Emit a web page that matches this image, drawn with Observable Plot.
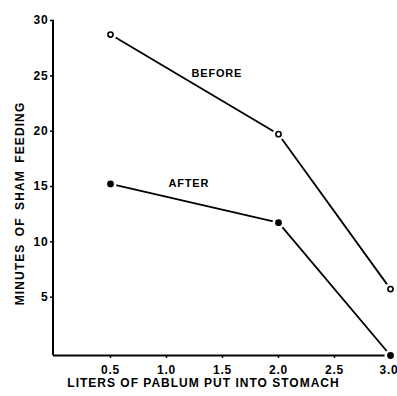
<!DOCTYPE html>
<html>
<head>
<meta charset="utf-8">
<script src="https://cdn.jsdelivr.net/npm/d3@7"></script>
<script src="https://cdn.jsdelivr.net/npm/@observablehq/plot@0.6"></script>
<style>
  html, body { margin: 0; padding: 0; background: #fff; }
  svg { font-family: "Liberation Sans", "DejaVu Sans", sans-serif; }
  .xlab text { letter-spacing: 1px; }
  .ylab text { letter-spacing: 1.1px; word-spacing: 3px; }
  .slab text { letter-spacing: 0.8px; }
  .tlab text { letter-spacing: 0.8px; }
</style>
</head>
<body>
<div id="chart"></div>
<script>
const liters = [0.5, 2.0, 3.0];
const before = [29, 20, 6];
const after = [15.5, 12, 0];
const xTicks = [0.5, 1.0, 1.5, 2.0, 2.5, 3.0];
const xTickLabels = ["0.5", "1.0", "1.5", "2.0", "2.5", "3.0"];
const yTicks = [5, 10, 15, 20, 25, 30];
const seriesLabels = ["BEFORE", "AFTER"];
const labelPos = [{x: 1.45, y: 25.5}, {x: 1.2, y: 15.5}];

const beforeData = liters.map((x, i) => ({x, y: before[i]}));
const afterData = liters.map((x, i) => ({x, y: after[i]}));
const labelData = seriesLabels.map((t, i) => ({text: t, ...labelPos[i]}));
const fmtX = d => xTickLabels[xTicks.indexOf(d)];

const chart = Plot.plot({
  width: 397,
  height: 396,
  marginLeft: 54,
  marginRight: 7,
  marginTop: 23,
  marginBottom: 41,
  x: {domain: [0, 3]},
  y: {domain: [0, 30]},
  style: {fontFamily: "Liberation Sans, DejaVu Sans, sans-serif", color: "#000"},
  marks: [
    Plot.ruleX([0], {y1: 0, y2: 30.3, stroke: "#000", strokeWidth: 2, dx: -1.5}),
    Plot.ruleY([0], {x1: -0.01, x2: 3.01, stroke: "#000", strokeWidth: 2}),
    Plot.axisY({ticks: yTicks, tickSize: 3, tickPadding: 2, fontSize: 12, fontWeight: "bold", dy: -3, dx: -1, label: null, strokeWidth: 1.5, className: "tlab"}),
    Plot.axisX({ticks: xTicks.slice(0, -1), tickFormat: fmtX, tickSize: 3, tickPadding: 7, fontSize: 12, fontWeight: "bold", label: null, strokeWidth: 1.5, className: "tlab"}),
    Plot.axisX({ticks: xTicks.slice(-1), tickFormat: fmtX, tickSize: 3, tickPadding: 7, fontSize: 12, fontWeight: "bold", label: null, strokeWidth: 1.5, className: "tlab", textAnchor: "end", dx: 8}),
    Plot.text(["MINUTES OF SHAM FEEDING"], {frameAnchor: "left", textAnchor: "middle", lineAnchor: "middle", dx: -34, dy: 14, rotate: -90, fontSize: 12, fontWeight: "bold", className: "ylab"}),
    Plot.text(["LITERS OF PABLUM PUT INTO STOMACH"], {frameAnchor: "bottom", textAnchor: "middle", lineAnchor: "middle", dy: 28, dx: -19, fontSize: 12, fontWeight: "bold", className: "xlab"}),
    Plot.line(beforeData, {x: "x", y: "y", stroke: "#000", strokeWidth: 1.8}),
    Plot.line(afterData, {x: "x", y: "y", stroke: "#000", strokeWidth: 1.8}),
    Plot.dot(beforeData, {x: "x", y: "y", r: 6, fill: "#fff", stroke: "none"}),
    Plot.dot(afterData, {x: "x", y: "y", r: 6, fill: "#fff", stroke: "none"}),
    Plot.dot(beforeData, {x: "x", y: "y", r: 2.6, fill: "#fff", stroke: "#000", strokeWidth: 1.6}),
    Plot.dot(afterData, {x: "x", y: "y", r: 3.4, fill: "#000", stroke: "none"}),
    Plot.text(labelData, {x: "x", y: "y", text: "text", fontSize: 11, fontWeight: "bold", className: "slab"})
  ]
});
document.getElementById("chart").appendChild(chart);
</script>
</body>
</html>
